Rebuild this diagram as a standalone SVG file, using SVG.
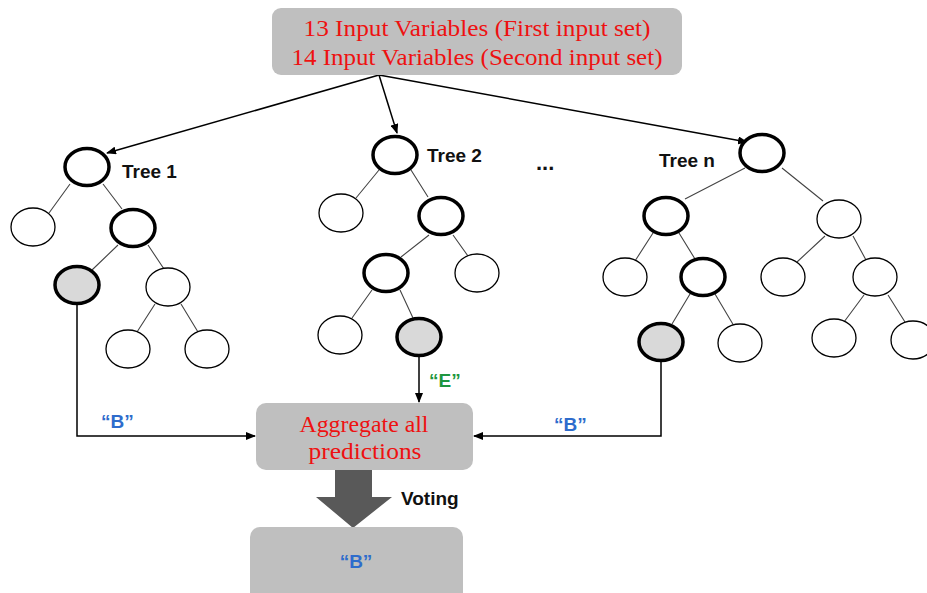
<svg xmlns="http://www.w3.org/2000/svg" width="927" height="593" viewBox="0 0 927 593">
<defs>
<marker id="ah" markerWidth="10" markerHeight="8" refX="9" refY="4" orient="auto" markerUnits="userSpaceOnUse">
<path d="M0,0 L10,4 L0,8 Z" fill="#000"/>
</marker>
<style>
.box{fill:#bfbfbf;}
.red{font-family:"Liberation Serif","Times New Roman",serif;font-size:23px;fill:#ee1111;text-anchor:middle;}
.lbl{font-family:"Liberation Sans",Arial,sans-serif;font-weight:bold;font-size:19px;fill:#111;}
.blue{font-family:"Liberation Sans",Arial,sans-serif;font-weight:bold;font-size:19px;fill:#2e6ccc;}
.green{font-family:"Liberation Sans",Arial,sans-serif;font-weight:bold;font-size:19px;fill:#1e9640;}
.n{fill:#fff;stroke:#000;stroke-width:1.3;}
.t{fill:#fff;stroke:#000;stroke-width:3.5;}
.g{fill:#d9d9d9;stroke:#000;stroke-width:3.5;}
.e{stroke:#444;stroke-width:1.1;fill:none;}
.c{stroke:#000;stroke-width:1.5;fill:none;}
</style>
</defs>
<rect width="927" height="593" fill="#fff"/>

<g id="connectors">
<path class="c" d="M379,75 L107,153" marker-end="url(#ah)"/>
<path class="c" d="M379,75 L397,133" marker-end="url(#ah)"/>
<path class="c" d="M379,75 L747,142" marker-end="url(#ah)"/>
<path class="c" d="M77,304 V436 H255" marker-end="url(#ah)"/>
<path class="c" d="M419,356 V402" marker-end="url(#ah)"/>
<path class="c" d="M661,361 V436 H474" marker-end="url(#ah)"/>
<!-- tree 1 edges -->
<path class="e" d="M70,184 L49,213 M103,184 L122,209 M118,245 L92,270 M148,245 L164,269 M155,304 L137,332 M181,304 L198,332"/>
<!-- tree 2 edges -->
<path class="e" d="M379,170 L356,198 M411,170 L428,197 M429,235 L401,257 M453,235 L468,256 M372,290 L352,318 M400,290 L413,318"/>
<!-- tree n edges -->
<path class="e" d="M745,168 L685,199 M782,168 L823,201 M653,233 L635,261 M679,233 L695,259 M825,236 L797,262 M853,236 L866,260 M690,294 L672,324 M715,294 L734,326 M864,295 L844,322 M888,295 L905,322"/>
</g>

<g id="input">
<rect class="box" x="272" y="8" width="410" height="67" rx="9"/>
<text class="red" x="477" y="36" textLength="347" lengthAdjust="spacingAndGlyphs">13 Input Variables (First input set)</text>
<text class="red" x="477" y="65" textLength="371" lengthAdjust="spacingAndGlyphs">14 Input Variables (Second input set)</text>
</g>

<g id="tree1">
<ellipse class="t" cx="87" cy="167" rx="22" ry="18.5"/>
<ellipse class="n" cx="33" cy="227" rx="22" ry="19"/>
<ellipse class="t" cx="133" cy="228" rx="22" ry="18.5"/>
<ellipse class="g" cx="77" cy="285" rx="22" ry="18.5"/>
<ellipse class="n" cx="168" cy="287" rx="22" ry="19"/>
<ellipse class="n" cx="128" cy="349" rx="22" ry="19"/>
<ellipse class="n" cx="207" cy="349" rx="22" ry="19"/>
<text class="lbl" x="122" y="178">Tree 1</text>
</g>

<g id="tree2">
<ellipse class="t" cx="395" cy="155" rx="22" ry="18.5"/>
<ellipse class="n" cx="341" cy="213" rx="22" ry="19"/>
<ellipse class="t" cx="441" cy="216" rx="22" ry="18.5"/>
<ellipse class="t" cx="386" cy="273" rx="22" ry="18.5"/>
<ellipse class="n" cx="477" cy="273" rx="22" ry="19"/>
<ellipse class="n" cx="340" cy="335" rx="22" ry="19"/>
<ellipse class="g" cx="419" cy="337" rx="22" ry="18.5"/>
<text class="lbl" x="427" y="162">Tree 2</text>
</g>

<g id="dots">
<text class="lbl" x="536" y="170" style="font-size:22px">...</text>
</g>

<g id="treen">
<ellipse class="t" cx="762" cy="153" rx="22" ry="18.5"/>
<ellipse class="t" cx="666" cy="216" rx="22" ry="18.5"/>
<ellipse class="n" cx="839" cy="219" rx="22" ry="19"/>
<ellipse class="n" cx="625" cy="277" rx="22" ry="19"/>
<ellipse class="t" cx="703" cy="277" rx="22" ry="18.5"/>
<ellipse class="n" cx="783" cy="277" rx="22" ry="19"/>
<ellipse class="n" cx="875" cy="277" rx="22" ry="19"/>
<ellipse class="g" cx="661" cy="342" rx="22" ry="18.5"/>
<ellipse class="n" cx="740" cy="343" rx="22" ry="19"/>
<ellipse class="n" cx="834" cy="338" rx="22" ry="19"/>
<ellipse class="n" cx="913" cy="340" rx="22" ry="19"/>
<text class="lbl" x="659" y="167">Tree n</text>
</g>

<g id="labels">
<text class="blue" x="101" y="428">“B”</text>
<text class="green" x="429" y="387">“E”</text>
<text class="blue" x="554" y="431">“B”</text>
</g>

<g id="aggregate">
<rect class="box" x="256" y="403" width="217" height="67" rx="10"/>
<text class="red" x="364" y="432" textLength="129" lengthAdjust="spacingAndGlyphs">Aggregate all</text>
<text class="red" x="365" y="459" textLength="113" lengthAdjust="spacingAndGlyphs">predictions</text>
</g>

<g id="voting">
<path d="M335,470 H372 V497 H392 L353,528 L316,497 H335 Z" fill="#595959"/>
<text class="lbl" x="401" y="505">Voting</text>
</g>

<g id="result">
<rect class="box" x="250" y="527" width="213" height="80" rx="10"/>
<text class="blue" x="356" y="568" text-anchor="middle">“B”</text>
</g>
</svg>
